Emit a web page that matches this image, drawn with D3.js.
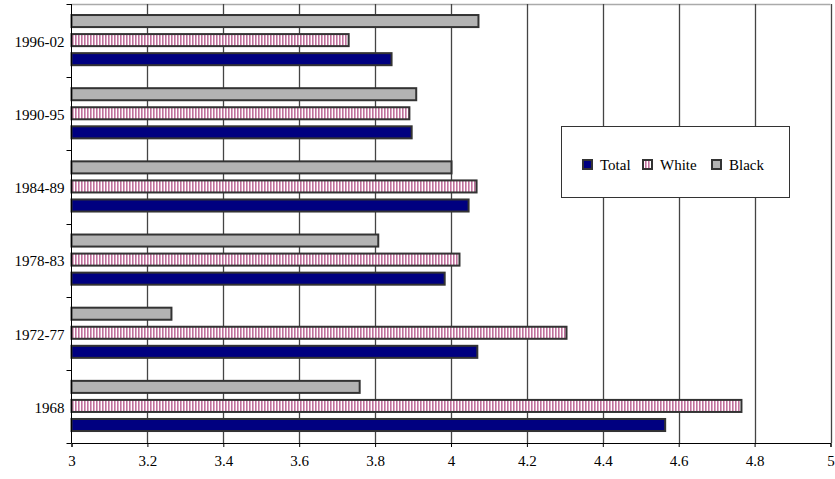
<!DOCTYPE html>
<html><head><meta charset="utf-8">
<script src="https://cdn.jsdelivr.net/npm/d3@7"></script>
<style>body{margin:0;background:#fff}svg{display:block}text{font-family:"Liberation Serif","Times New Roman",serif}</style>
</head><body><svg id="c" width="835" height="479"></svg>
<script>
const categories = ["1996-02","1990-95","1984-89","1978-83","1972-77","1968"];
const series = ["Black","White","Total"];
const totalValues = [3.846, 3.899, 4.049, 3.986, 4.072, 4.567];
const whiteValues = [3.733, 3.893, 4.070, 4.025, 4.307, 4.768];
const blackValues = [4.075, 3.911, 4.004, 3.811, 3.266, 3.762];
const xTicks = [3,3.2,3.4,3.6,3.8,4,4.2,4.4,4.6,4.8,5];
const legendOrder = ["Total","White","Black"];

const svg = d3.select("#c");
const defs = svg.append("defs");
const pat = defs.append("pattern").attr("id","stripe").attr("patternUnits","userSpaceOnUse")
  .attr("width",3).attr("height",10);
pat.append("rect").attr("width",3).attr("height",10).attr("fill","#fff");
pat.append("rect").attr("x",0).attr("width",1.6).attr("height",10).attr("fill","#c0709c");

const fills = {Total:"#000080", White:"url(#stripe)", Black:"#b3b3b3"};
const vals = {Total: totalValues, White: whiteValues, Black: blackValues};

const L=71.5, R=830.5, T=4, B=443;
const FONT = "Liberation Serif";
const x = d3.scaleLinear().domain([3,5]).range([L,R]);
const y0 = d3.scaleBand().domain(categories).range([T,B]).padding(0);
const st = y0.step();
const y1 = d3.scaleBand().domain(series).range([st*0.137, st*0.85]).paddingInner(0.263).paddingOuter(0);

// top border
svg.append("line").attr("x1",L).attr("x2",R).attr("y1",T+0.5).attr("y2",T+0.5).attr("stroke","#aaa").attr("stroke-width",1.5);
// gridlines
svg.append("g").selectAll("line").data(xTicks.slice(1)).join("line")
  .attr("x1",d=>Math.round(x(d))+0.5).attr("x2",d=>Math.round(x(d))+0.5)
  .attr("y1",T).attr("y2",B).attr("stroke","#444").attr("stroke-width",1.3);

// bars
const g = svg.append("g");
categories.forEach((c,i)=>{
  series.forEach(s=>{
    const v = vals[s][i];
    g.append("rect").attr("x",x(3)).attr("y",y0(c)+y1(s)+1)
      .attr("width",x(v)-x(3)-1).attr("height",y1.bandwidth()-2)
      .attr("fill",fills[s]).attr("stroke","#333").attr("stroke-width",2);
  });
});

// x axis
const xa = svg.append("g").attr("transform",`translate(0,${B})`)
  .call(d3.axisBottom(x).tickValues(xTicks).tickFormat(d3.format("")).tickSizeOuter(0).tickSize(4).tickPadding(8));
xa.attr("font-family",FONT).attr("font-size",15);
xa.select(".domain").attr("stroke","#000");
xa.selectAll(".tick line").attr("stroke","#000");
xa.selectAll("text").attr("fill","#000");

// y axis
const ya = svg.append("g").attr("transform",`translate(${L},0)`).attr("font-family",FONT).attr("font-size",15);
ya.append("line").attr("x1",0).attr("x2",0).attr("y1",T).attr("y2",B).attr("stroke","#000");
const bounds = categories.map(c=>y0(c)).concat([B]);
ya.selectAll("line.t").data(bounds).join("line").attr("class","t")
  .attr("x1",-5).attr("x2",0).attr("y1",d=>Math.round(d)+0.5).attr("y2",d=>Math.round(d)+0.5).attr("stroke","#000");
ya.selectAll("text").data(categories).join("text")
  .attr("x",-7).attr("y",d=>y0(d)+st/2+1).attr("dy","0.35em").attr("text-anchor","end")
  .attr("fill","#000").text(d=>d);

// legend
const lg = svg.append("g").attr("font-family",FONT).attr("font-size",15);
lg.append("rect").attr("x",561.5).attr("y",126.5).attr("width",228).attr("height",71).attr("fill","#fff").attr("stroke","#333").attr("stroke-width",1);
const lx = [582, 642, 711];
legendOrder.forEach((s,i)=>{
  lg.append("rect").attr("x",lx[i]+1).attr("y",160).attr("width",9).attr("height",9)
    .attr("fill",s==="White"?"url(#stripe)":fills[s]).attr("stroke","#333").attr("stroke-width",2);
  lg.append("text").attr("x",lx[i]+18).attr("y",165).attr("dy","0.35em").attr("fill","#000").text(s);
});
</script></body></html>
